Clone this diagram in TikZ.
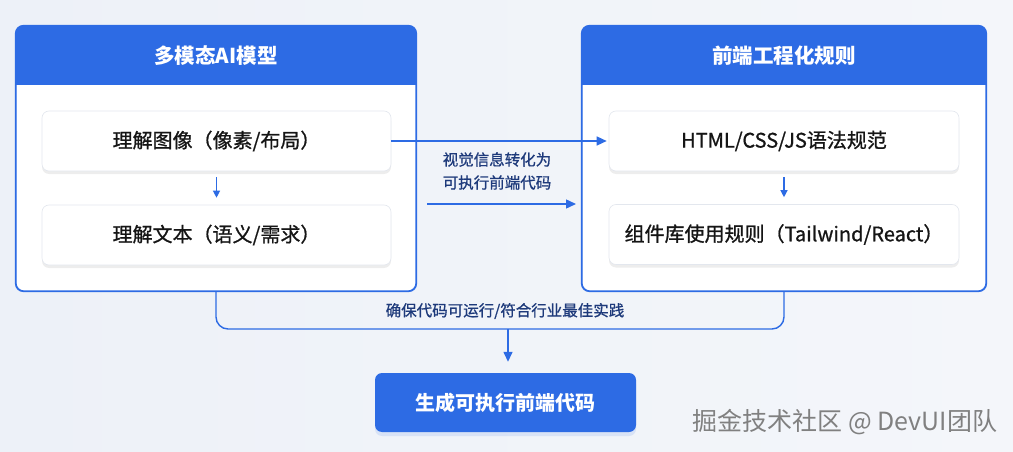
\documentclass[tikz,border=0pt]{standalone}
\usepackage{fontspec}
\setmainfont{Noto Sans CJK SC}
\newfontfamily\medfont{Noto Sans CJK SC}[FakeBold=0.9]
\usetikzlibrary{arrows.meta,shadows}
\definecolor{bblue}{HTML}{2D6BE4}
\definecolor{navy}{HTML}{1E3A7B}
\definecolor{bgA}{HTML}{EDF1F8}
\definecolor{bgB}{HTML}{F4F6FA}
\definecolor{ink}{HTML}{151515}
\definecolor{soft}{HTML}{E3E7EE}
\begin{document}
\begin{tikzpicture}[x=1pt,y=-1pt,
  panel/.style={draw=bblue, line width=1.1pt, fill=white, rounded corners=8pt,
    minimum height=265pt, inner sep=0pt},
  title/.style={text=white, font=\fontsize{20.5}{24}\selectfont\bfseries},
  itembox/.style={draw=soft, line width=0.6pt, fill=white, rounded corners=7pt,
    minimum width=349pt, minimum height=60pt, inner sep=0pt,
    font=\medfont\fontsize{20}{24}\selectfont, text=ink,
    drop shadow={shadow xshift=0pt, shadow yshift=-3pt, opacity=0.07, fill=black}},
  conn/.style={draw=bblue, line width=1.4pt},
  arr/.style={conn, -{Triangle[length=10pt,width=9pt]}},
  arrs/.style={conn, line width=1.2pt, -{Triangle[length=7pt,width=7pt]}},
  lbl/.style={text=navy, font=\medfont\fontsize{15.5}{23}\selectfont, align=center},
  final/.style={fill=bblue, rounded corners=7pt, minimum width=261pt, minimum height=59pt,
    text=white, font=\fontsize{20}{24}\selectfont\bfseries,
    drop shadow={shadow xshift=0pt, shadow yshift=-4pt, opacity=0.12, fill=bblue}},
  wm/.style={text=black!50, font=\fontsize{25}{28}\selectfont}
]
\useasboundingbox (0,0) rectangle (1013,452);
\shade[left color=bgA, right color=bgB] (0,0) rectangle (1013,452);

% left panel
\node[panel, minimum width=400pt] (L) at (216,158.5) {};
\begin{scope}
  \clip[rounded corners=8pt] (L.north west) rectangle (L.south east);
  \fill[bblue] (L.north west) rectangle (416,85);
\end{scope}
\draw[draw=bblue, line width=1.1pt, rounded corners=8pt] (L.north west) rectangle (L.south east);
\node[title] (Lt) at (216,56) {多模态AI模型};

% right panel
\node[panel, minimum width=404pt] (R) at (784,158.5) {};
\begin{scope}
  \clip[rounded corners=8pt] (R.north west) rectangle (R.south east);
  \fill[bblue] (R.north west) rectangle (986,85);
\end{scope}
\draw[draw=bblue, line width=1.1pt, rounded corners=8pt] (R.north west) rectangle (R.south east);
\node[title] (Rt) at (784,56) {前端工程化规则};

% items
\node[itembox] (L1) at (216.5,141) {理解图像（像素/布局）};
\node[itembox] (L2) at (216.5,235) {理解文本（语义/需求）};
\node[itembox, minimum width=350pt] (R1) at (784,141) {HTML/CSS/JS语法规范};
\node[itembox, minimum width=350pt] (R2) at (784,234.5) {组件库使用规则（Tailwind/React）};

\draw[arrs, shorten <=6pt, shorten >=7pt] (L1.south) -- (L2.north);
\draw[arrs, shorten <=6pt, shorten >=7pt] (R1.south) -- (R2.north);

% middle
\draw[arr, shorten >=2pt] (L1.east) -- (R1.west);
\node[lbl] (mid) at (497,171) {视觉信息转化为\\可执行前端代码};
\coordinate (a2s) at (427,204);
\coordinate (a2e) at (576,204);
\draw[arr] (a2s) -- (a2e);

% bracket
\coordinate (ybr) at (0,329);
\draw[conn, rounded corners=12pt] (L.south) -- (L.south |- ybr) -- (R.south |- ybr) -- (R.south);
\node[lbl] (blbl) at (505,311) {确保代码可运行/符合行业最佳实践};

% final
\node[final] (F) at (505.5,402.5) {生成可执行前端代码};
\coordinate (bm) at (508,329);
\draw[arr, shorten >=11pt] (bm) -- (bm |- F.north);

\node[wm] (W) at (845,422) {掘金技术社区 @ DevUI团队};
\end{tikzpicture}
\end{document}
